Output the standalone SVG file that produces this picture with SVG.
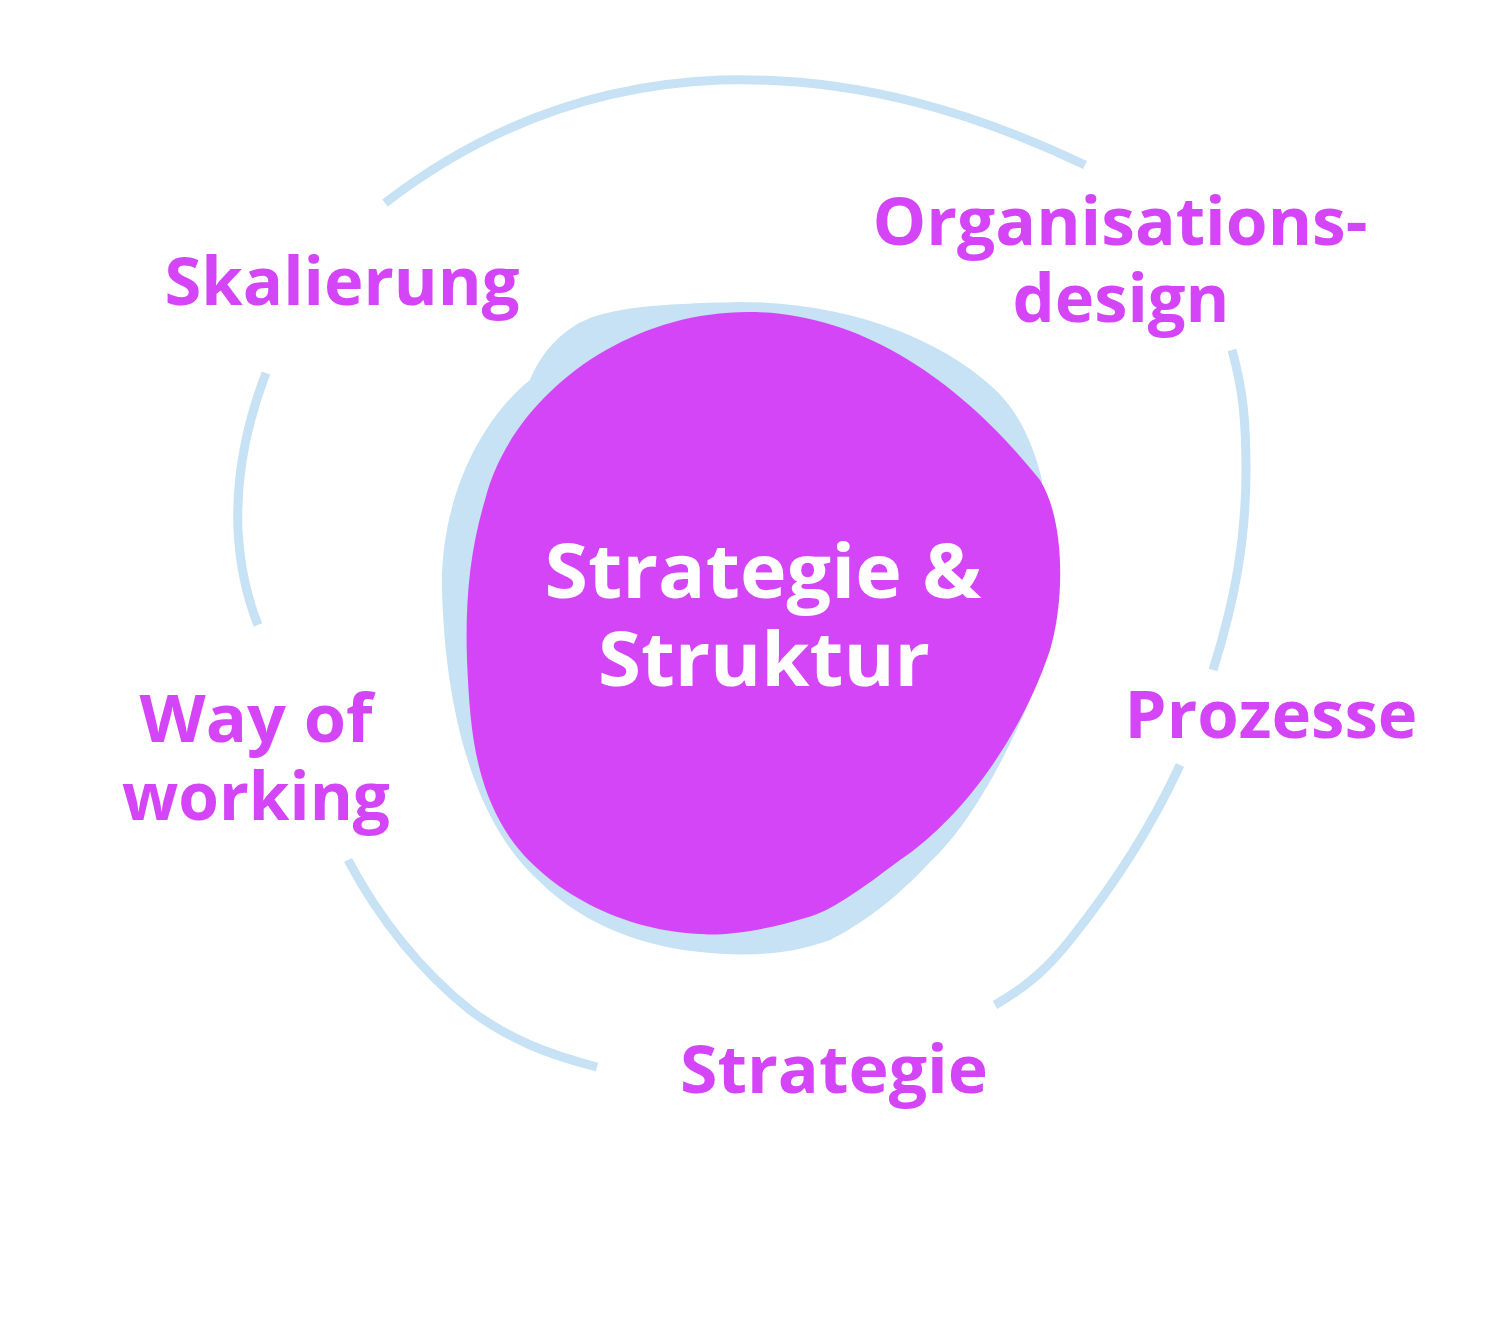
<svg xmlns="http://www.w3.org/2000/svg" width="1500" height="1321" viewBox="0 0 1500 1321">
<style>
.ring{fill:none;stroke:#C7E2F4;stroke-width:9;stroke-linecap:butt}
.lbl{font-family:"Open Sans","Noto Sans","DejaVu Sans",sans-serif;font-weight:700;fill:#D445F8;text-anchor:middle;font-size:67px}
.ctr{font-family:"Open Sans","Noto Sans","DejaVu Sans",sans-serif;font-weight:700;fill:#FFFFFF;text-anchor:middle;font-size:76px}
</style>
<rect width="1500" height="1321" fill="#FFFFFF"/>
<g id="connectors">
<path class="ring" d="M385 203 C 480 130 590 85 720 80 C 860 76 980 115 1085 165"/>
<path class="ring" d="M266 373 C 244 430 236 480 238 530 C 240 570 248 600 258 625"/>
<path class="ring" d="M348 860 C 380 920 420 970 470 1010 C 510 1040 550 1055 597 1067"/>
<path class="ring" d="M995 1005 C 1030 985 1050 965 1070 940 C 1110 890 1150 830 1180 765"/>
<path class="ring" d="M1232 350 C 1243 390 1246 420 1246 470 C 1246 540 1235 600 1213 670"/>
</g>
<g id="center">
<path fill="#C7E2F4" d="M740 302 C 850 302 940 340 990 385 C 1020 410 1035 450 1042 480 L 1030 700 C 1000 770 965 830 930 862 C 895 900 860 925 830 940 C 790 955 745 957 700 952 C 630 945 575 917 540 882 C 470 820 445 700 442 590 C 440 500 480 420 530 380 C 540 355 560 330 590 318 C 620 308 650 304 740 302 Z"/>
<path fill="#D445F8" d="M748 312 C 860 312 960 380 1040 480 C 1065 520 1065 600 1050 650 C 1020 740 960 820 900 860 C 860 890 830 912 805 918 C 760 932 720 936 700 934 C 610 930 535 880 505 830 C 475 780 470 730 467 660 C 465 600 470 550 485 500 C 510 400 620 312 748 312 Z"/>
<text class="ctr" x="763" y="598" textLength="437" lengthAdjust="spacingAndGlyphs">Strategie &amp;</text>
<text class="ctr" x="764" y="686" textLength="332" lengthAdjust="spacingAndGlyphs">Struktur</text>
</g>
<g id="skalierung"><text class="lbl" x="342" y="305" textLength="355" lengthAdjust="spacingAndGlyphs">Skalierung</text></g>
<g id="organisationsdesign"><text class="lbl" x="1120" y="245" textLength="495" lengthAdjust="spacingAndGlyphs">Organisations-</text><text class="lbl" x="1121" y="322" textLength="217" lengthAdjust="spacingAndGlyphs">design</text></g>
<g id="prozesse"><text class="lbl" x="1271" y="738" textLength="293" lengthAdjust="spacingAndGlyphs">Prozesse</text></g>
<g id="way-of-working"><text class="lbl" x="256" y="742" textLength="233" lengthAdjust="spacingAndGlyphs">Way of</text><text class="lbl" x="256" y="820" textLength="268" lengthAdjust="spacingAndGlyphs">working</text></g>
<g id="strategie"><text class="lbl" x="834" y="1093" textLength="308" lengthAdjust="spacingAndGlyphs">Strategie</text></g>
</svg>
